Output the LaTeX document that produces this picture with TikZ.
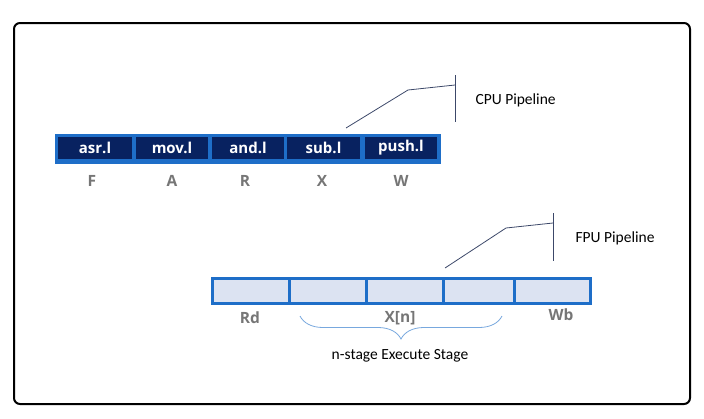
\documentclass[tikz,border=0pt]{standalone}
\usepackage{fontspec}
\setmainfont{Carlito}
\newfontfamily\cellfont{Open Sans}
\usetikzlibrary{decorations.pathreplacing}
\definecolor{barblue}{RGB}{30,110,200}
\definecolor{navy}{RGB}{8,34,96}
\definecolor{lav}{RGB}{220,227,242}
\definecolor{stagegrey}{RGB}{118,118,118}
\definecolor{callout}{RGB}{60,72,105}
\begin{document}
\begin{tikzpicture}[
		x=1pt,
		y=-1pt,
		font=\fontsize{15.5}{18}\selectfont
	]
	\tikzset{
		cpubar/.style = {fill=barblue, minimum width=386, minimum height=30, inner sep=0},
		cpucell/.style = {fill=navy, minimum height=22, inner sep=0, text=white,
			font=\cellfont\bfseries\fontsize{15}{17}\selectfont},
		fpucell/.style = {fill=lav, draw=barblue, line width=3pt, minimum height=25, inner sep=0},
		stage/.style = {text=stagegrey, font=\cellfont\bfseries\fontsize{15.5}{17}\selectfont},
		pointer/.style = {draw=callout, line width=0.8pt},
	}
	\useasboundingbox (0,0) rectangle (704,418);
	\draw[line width=2pt, rounded corners=6pt] (14,23) rectangle (690,404);
	% CPU pipeline
	\node[cpubar] at (247.5,148.5) (cpu) {};
	\node[cpucell, minimum width=74] at (95,148) (asr) {asr.l};
	\node[cpucell, minimum width=72] at (172,148) (mov) {mov.l};
	\node[cpucell, minimum width=72] at (248,148) (and) {and.l};
	\node[cpucell, minimum width=73] at (323.5,148) (sub) {sub.l};
	\node[cpucell, minimum width=72] at (401,148) (push) {push.l};
	%
	\node[stage] at (92,181) (f) {F};
	\node[stage] at (172,181) (a) {A};
	\node[stage] at (245,181) (r) {R};
	\node[stage] at (322,181) (x) {X};
	\node[stage] at (401,181) (w) {W};
	%
	\coordinate (cpufrom) at (346,128);
	\coordinate (cpuknee) at (408,90);
	\coordinate (cpuhit) at (455,85);
	\coordinate (cputop) at (455,75);
	\coordinate (cpubot) at (455,122);
	\draw[pointer] (cpufrom) -- (cpuknee) -- (cpuhit);
	\draw[pointer] (cputop) -- (cpubot);
	\node[anchor=west] at (472,100) (cpulabel) {CPU Pipeline};
	% FPU pipeline
	\node[fpucell, minimum width=77] at (250.5,290.5) (rd) {};
	\node[fpucell, minimum width=77] at (327.5,290.5) (xa) {};
	\node[fpucell, minimum width=77] at (404.5,290.5) (xb) {};
	\node[fpucell, minimum width=71] at (478.5,290.5) (xc) {};
	\node[fpucell, minimum width=76] at (552,290.5) (wb) {};
	%
	\node[stage] at (250,318) (rdl) {Rd};
	\node[stage] at (400,318) (xl) {X[n]};
	\node[stage] at (561,315) (wbl) {Wb};
	%
	\coordinate (brl) at (300,316);
	\coordinate (brr) at (502,316);
	\draw[draw=barblue!60, line width=0.8pt, decorate,
		decoration={brace, mirror, amplitude=23pt}] (brl) -- (brr);
	\node at (400,356) (exec) {n-stage Execute Stage};
	%
	\coordinate (fpufrom) at (445,268);
	\coordinate (fpuknee) at (506,228);
	\coordinate (fpuhit) at (553,223);
	\coordinate (fputop) at (553,213);
	\coordinate (fpubot) at (553,261);
	\draw[pointer] (fpufrom) -- (fpuknee) -- (fpuhit);
	\draw[pointer] (fputop) -- (fpubot);
	\node[anchor=west] at (572,238) (fpulabel) {FPU Pipeline};
\end{tikzpicture}
\end{document}
